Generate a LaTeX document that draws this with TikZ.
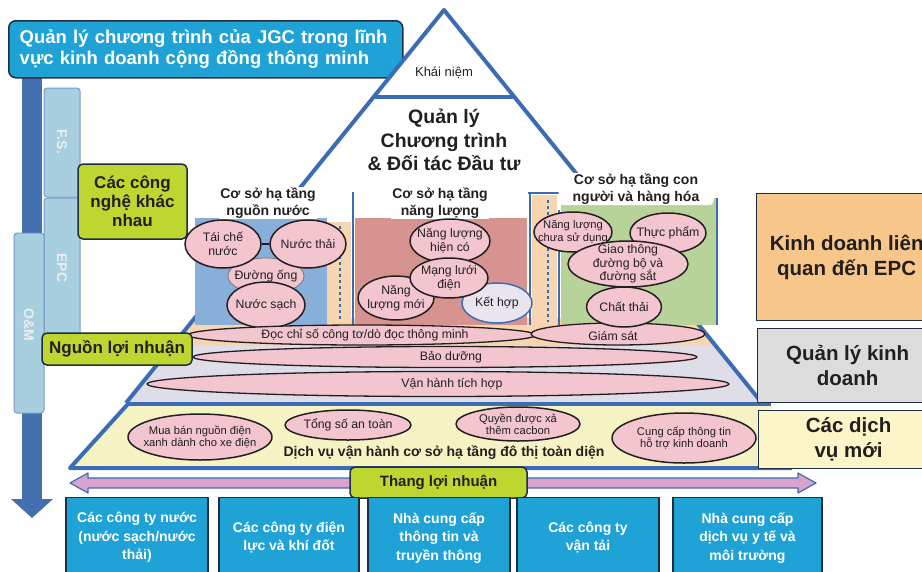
\documentclass[tikz,border=0pt]{standalone}
\usepackage{fontspec}
\setmainfont{Liberation Sans}
\usetikzlibrary{shapes.geometric}
\definecolor{titleblue}{HTML}{1FA2D6}
\definecolor{edgedark}{HTML}{1E2E44}
\definecolor{pyrblue}{HTML}{3C6DB4}
\definecolor{shaftblue}{HTML}{4470B2}
\definecolor{barblue}{HTML}{A7CFDF}
\definecolor{leafgreen}{HTML}{BED630}
\definecolor{pinkfill}{HTML}{F2C5CF}
\definecolor{peach}{HTML}{F6D5B0}
\definecolor{lavender}{HTML}{DEDDE8}
\definecolor{bandyellow}{HTML}{F5F2C3}
\definecolor{waterblue}{HTML}{88AEDA}
\definecolor{energyred}{HTML}{D6938F}
\definecolor{goodsgreen}{HTML}{B7D39A}
\definecolor{epcorange}{HTML}{F7C68A}
\definecolor{mgmtgray}{HTML}{DCDCDC}
\definecolor{newyellow}{HTML}{FBF5C7}
\definecolor{arrowpink}{HTML}{D8A3CF}
\definecolor{mixlilac}{HTML}{E9E5EF}
\definecolor{inktext}{HTML}{231F20}
\tikzset{
  bubble/.style={ellipse, draw=inktext, line width=1.5pt, fill=pinkfill, inner sep=0pt},
  btext/.style={align=center, font=\fontsize{12.3}{13.5}\selectfont, text=inktext, inner sep=0pt},
  smalltext/.style={btext, font=\fontsize{11.2}{12.5}\selectfont},
  greenbox/.style={draw=edgedark, line width=1.5pt, fill=leafgreen, rounded corners=5pt, align=center, font=\bfseries\fontsize{17}{19}\selectfont, text=inktext},
  sidebox/.style={draw=edgedark, line width=1.3pt, anchor=north west, minimum width=180, align=center, font=\bfseries\fontsize{20.5}{25}\selectfont, text=inktext},
  firmbox/.style={draw=edgedark, line width=1.3pt, fill=titleblue, anchor=north, minimum height=80, align=center, text=white, font=\bfseries\fontsize{14}{18.5}\selectfont},
  colhead/.style={fill=white, align=center, font=\bfseries\fontsize{14}{16.5}\selectfont, text=inktext, inner sep=1pt},
  stage/.style={rotate=-90, font=\bfseries\fontsize{14}{14}\selectfont, text=white!93!black},
  stagebar/.style={draw=pyrblue!70, line width=1pt, fill=barblue, rounded corners=3pt},
  pyrline/.style={draw=pyrblue, line width=4pt},
}
\begin{document}
\begin{tikzpicture}[x=1pt, y=-1pt, line join=round]
\useasboundingbox (0,0) rectangle (922,571);
\clip (0,0) rectangle (922,571);

% mũi tên dọc bên trái
\fill[shaftblue] (22,70) rectangle (42,500);
\fill[shaftblue] (11,499) -- (53,499) -- (32,518) -- cycle;
\draw[stagebar] (44,88) rectangle (80,197);
\draw[stagebar] (44,198) rectangle (80,336);
\draw[stagebar] (14,233) rectangle (44,413);
\node[stage] (fs) at (62,142) {F.S.};
\node[stage] (epc) at (62,268) {EPC};
\node[stage] (om) at (29,325) {O\&M};

% tiêu đề
\node[draw=edgedark, line width=1.5pt, fill=titleblue, rounded corners=7pt, anchor=north west,
  text width=372, inner xsep=11, minimum height=57, align=left, text=white,
  font=\bfseries\fontsize{18.5}{21.5}\selectfont] (title) at (8,20)
  {Quản lý chương trình của JGC trong lĩnh\\vực kinh doanh cộng đồng thông minh};

% kim tự tháp
\fill[white] (444,10) -- (126,403) -- (762,403) -- cycle;
\begin{scope}
  \clip (444,10) -- (126,403) -- (762,403) -- cycle;
  \fill[peach] (100,318) rectangle (800,346);
  \fill[lavender] (100,346) rectangle (800,403);
\end{scope}
\fill[bandyellow] (127,405) -- (771,405) -- (792,468) -- (70,468) -- cycle;
\draw[pyrline] (126,403) -- (444,10) -- (762,403);
\draw[pyrline] (373,97) -- (515,97);
\draw[pyrline] (126,404) -- (771,404);
\draw[pyrline] (127,405) -- (70,468) -- (792,468);

\node[font=\fontsize{13}{15}\selectfont, text=inktext] (concept) at (444,73) {Khái niệm};
\node[font=\bfseries\fontsize{19.5}{23.5}\selectfont, align=center, text=inktext] (program) at (444,140)
  {Quản lý\\Chương trình\\\& Đối tác Đầu tư};

% các cột hạ tầng
\fill[waterblue] (195,218) rectangle (327,325);
\fill[peach] (327,222) rectangle (351,325);
\draw[pyrblue, line width=2pt, dashed] (340,226) -- (340,322);
\draw[pyrblue, line width=2.5pt] (353,192) -- (353,325);
\fill[energyred] (355,218) rectangle (527,325);
\draw[pyrblue, line width=2.5pt] (530,193) -- (530,325);
\fill[peach] (532,195) rectangle (557,325);
\draw[pyrblue, line width=2pt, dashed] (548,200) -- (548,322);
\draw[pyrblue, line width=2pt] (528,193) -- (560,193);
\draw[pyrblue, line width=2pt] (559,210) -- (559,325);
\fill[goodsgreen] (561,198) rectangle (716,325);
\draw[pyrblue, line width=2.5pt] (717,198) -- (717,325);

\node[colhead] (hwater) at (268,203) {Cơ sở hạ tầng\\nguồn nước};
\node[colhead] (henergy) at (440,203) {Cơ sở hạ tầng\\năng lượng};
\node[colhead, minimum width=155, rounded corners=4pt] (hgoods) at (636,189) {Cơ sở hạ tầng con\\người và hàng hóa};

% nước
\node[bubble, line width=0.8pt, draw=inktext!60, minimum width=76, minimum height=36,
  label={[btext]center:Đường ống}] (pipe) at (266,276) {};
\node[bubble, minimum width=76, minimum height=48, label={[btext]center:{Tái chế\\nước}}] (recycle) at (223,244) {};
\node[bubble, minimum width=76, minimum height=48, label={[btext]center:Nước thải}] (sewage) at (308,244) {};
\draw[inktext, line width=1.5pt] (recycle.east) -- (sewage.west);
\node[bubble, minimum width=78, minimum height=46, label={[btext]center:Nước sạch}] (clean) at (266,305) {};

% năng lượng
\node[bubble, minimum width=80, minimum height=44, label={[btext]center:{Năng lượng\\hiện có}}] (existing) at (450,241) {};
\node[bubble, fill=mixlilac, draw=pyrblue, minimum width=70, minimum height=40,
  label={[btext]center:Kết hợp}] (cogen) at (497,303) {};
\node[bubble, minimum width=76, minimum height=44, label={[btext]center:{Năng\\lượng mới}}] (renew) at (396,298) {};
\node[bubble, minimum width=78, minimum height=40, label={[btext]center:{Mạng lưới\\điện}}] (grid) at (449,278) {};

% con người và hàng hóa
\node[bubble, minimum width=78, minimum height=40, label={[smalltext]center:{Năng lượng\\chưa sử dụng}}] (unused) at (573,232) {};
\node[bubble, minimum width=76, minimum height=40, label={[btext]center:Thực phẩm}] (food) at (668,233) {};
\node[bubble, minimum width=120, minimum height=46, label={[btext]center:{Giao thông\\đường bộ và\\đường sắt}}] (transit) at (628,264) {};

% các dải dài
\node[bubble, line width=1.3pt, minimum width=348, minimum height=20,
  label={[btext, xshift=3]center:Đọc chỉ số công tơ/dò đọc thông minh}] (meter) at (362,335) {};
\node[bubble, line width=1.3pt, minimum width=174, minimum height=22,
  label={[btext, xshift=-5, yshift=-2]center:Giám sát}] (monitor) at (618,334) {};
\node[bubble, minimum width=75, minimum height=40, label={[btext]center:Chất thải}] (waste) at (624,307) {};
\node[bubble, line width=1.3pt, minimum width=504, minimum height=21,
  label={[btext, xshift=6]center:Bảo dưỡng}] (upkeep) at (445,357) {};
\node[bubble, line width=1.3pt, minimum width=582, minimum height=25,
  label={[btext, xshift=14]center:Vận hành tích hợp}] (integrated) at (438,384) {};

% dịch vụ mới
\node[bubble, minimum width=144, minimum height=46, label={[smalltext]center:{Mua bán nguồn điện\\xanh dành cho xe điện}}] (greenpower) at (200,437) {};
\node[bubble, minimum width=126, minimum height=30, label={[btext]center:Tổng số an toàn}] (safety) at (348,425) {};
\node[bubble, minimum width=124, minimum height=34, label={[smalltext]center:{Quyền được xả\\thêm cacbon}}] (carbon) at (518,424) {};
\node[bubble, minimum width=144, minimum height=50, label={[smalltext]center:{Cung cấp thông tin\\hỗ trợ kinh doanh}}] (bizinfo) at (684,438) {};
\node[font=\bfseries\fontsize{14}{15}\selectfont, text=inktext] (citysvc) at (444,453)
  {Dịch vụ vận hành cơ sở hạ tầng đô thị toàn diện};

% hộp xanh lá
\node[greenbox, minimum width=109, minimum height=75] (tech) at (132.5,201.5) {Các công\\nghệ khác\\nhau};
\node[greenbox, minimum width=150, minimum height=32] (profit) at (117,349) {Nguồn lợi nhuận};

% hộp bên phải
\node[sidebox, fill=epcorange, minimum height=127] (epcbiz) at (756,193) {Kinh doanh liên\\quan đến EPC};
\node[sidebox, fill=mgmtgray, minimum height=74] (bizmgmt) at (757,328) {Quản lý kinh\\doanh};
\node[sidebox, fill=newyellow, minimum height=58] (newsvc) at (758,410) {Các dịch\\vụ mới};

% thang lợi nhuận
\filldraw[draw=pyrblue, line width=1.2pt, fill=arrowpink] (70,483) -- (88,473) -- (88,478)
  -- (798,478) -- (798,473) -- (816,483) -- (798,493) -- (798,488) -- (88,488) -- (88,493) -- cycle;
\node[greenbox, font=\bfseries\fontsize{15}{17}\selectfont, minimum width=177, minimum height=31] (ladder) at (438.5,482.5) {Thang lợi nhuận};

% các công ty
\node[firmbox, minimum width=142] (water) at (137,497) {Các công ty nước\\(nước sạch/nước\\thải)};
\node[firmbox, minimum width=140] (power) at (289,497) {Các công ty điện\\lực và khí đốt};
\node[firmbox, minimum width=142] (telecom) at (439,497) {Nhà cung cấp\\thông tin và\\truyền thông};
\node[firmbox, minimum width=142] (transport) at (588,497) {Các công ty\\vận tải};
\node[firmbox, minimum width=149] (health) at (747.5,497) {Nhà cung cấp\\dịch vụ y tế và\\môi trường};
\end{tikzpicture}
\end{document}
